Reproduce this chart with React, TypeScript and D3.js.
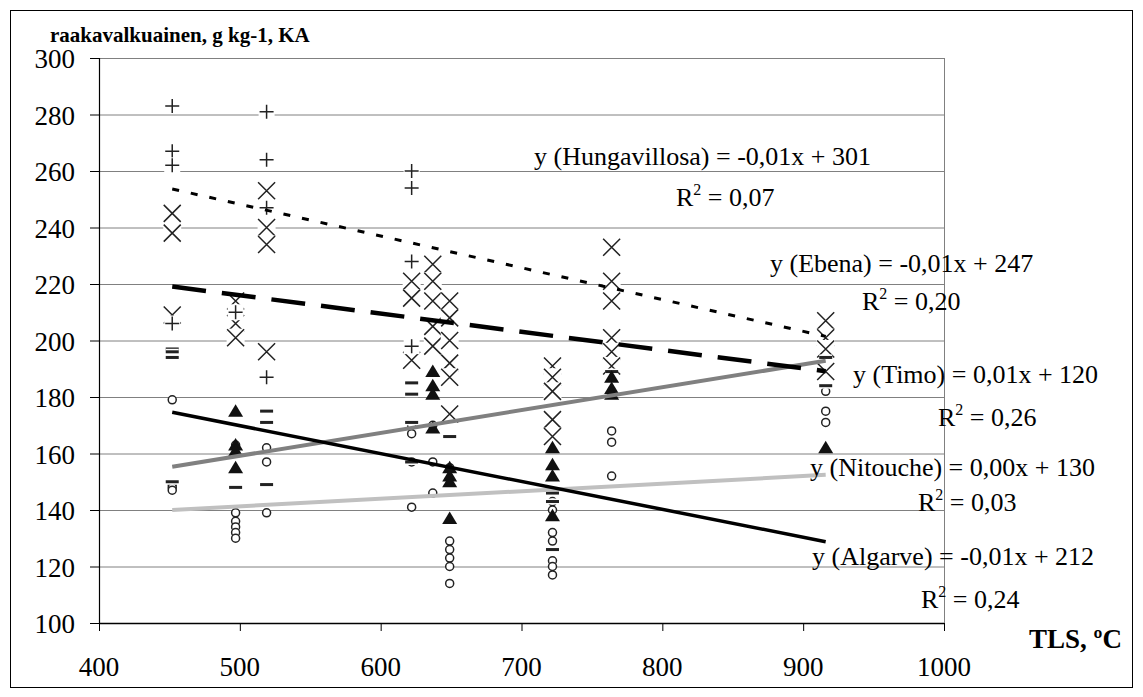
import React from "react";
import * as d3 from "d3";

type Pt = [number, number];

// axis ticks
const xTicks = [400, 500, 600, 700, 800, 900, 1000];
const yTicks = [100, 120, 140, 160, 180, 200, 220, 240, 260, 280, 300];

// [TLS, raakavalkuainen]
const hungavillosa: Pt[] = [
  [452, 283], [452, 267], [452, 262], [452, 206],
  [497, 210],
  [519, 281], [519, 264], [519, 247], [519, 187],
  [622, 260], [622, 254], [622, 228], [622, 198],
];

const ebena: Pt[] = [
  [452, 245], [452, 238], [452, 209],
  [497, 214], [497, 206], [497, 201],
  [519, 253], [519, 240], [519, 234], [519, 196],
  [622, 221], [622, 215], [622, 193],
  [637, 227], [637, 221], [637, 214], [637, 205], [637, 198],
  [649, 214], [649, 208], [649, 200], [649, 192], [649, 187], [649, 174],
  [722, 191], [722, 187], [722, 182], [722, 172], [722, 166],
  [764, 233], [764, 221], [764, 214], [764, 201], [764, 196], [764, 191],
  [916, 207], [916, 201], [916, 197], [916, 189],
];

const timo: Pt[] = [
  [452, 197], [452, 196], [452, 194], [452, 150],
  [497, 148],
  [519, 175], [519, 171], [519, 149],
  [622, 185], [622, 181], [622, 171], [622, 157],
  [649, 166],
  [722, 146], [722, 143], [722, 126],
  [764, 189],
  [916, 194], [916, 184],
];

const nitouche: Pt[] = [
  [452, 179], [452, 149], [452, 148], [452, 147],
  [497, 163], [497, 139], [497, 136], [497, 134], [497, 132], [497, 130],
  [519, 162], [519, 157], [519, 139],
  [622, 170], [622, 167], [622, 157], [622, 141],
  [637, 170], [637, 157], [637, 146],
  [649, 155], [649, 129], [649, 126], [649, 123], [649, 120], [649, 114],
  [722, 143], [722, 140], [722, 132], [722, 129], [722, 122], [722, 120], [722, 117],
  [764, 168], [764, 164], [764, 152],
  [916, 182], [916, 175], [916, 171],
];

const algarve: Pt[] = [
  [497, 175], [497, 163], [497, 161], [497, 155],
  [637, 189], [637, 184], [637, 181], [637, 169],
  [649, 155], [649, 152], [649, 150], [649, 137],
  [722, 162], [722, 156], [722, 152], [722, 138],
  [764, 187], [764, 183], [764, 181],
  [916, 162],
];

// linear trends as drawn: [slope, intercept]
const trendRange = [452, 916];
const hungTrend = [-0.1125, 304.5];
const ebenaTrend = [-0.0646, 248.3];
const timoTrend = [0.0808, 118.8];
const nitoucheTrend = [0.0268, 127.9];
const algarveTrend = [-0.0987, 219.2];

const equations = [
  "y (Hungavillosa) = -0,01x + 301",
  "y (Ebena) = -0,01x + 247",
  "y (Timo) = 0,01x + 120",
  "y (Nitouche) = 0,00x + 130",
  "y (Algarve) = -0,01x + 212",
];
const rSquared = ["0,07", "0,20", "0,26", "0,03", "0,24"];

const FONT = "Liberation Serif, Times New Roman, serif";
const INK = "#222";

// label placements (x, baseline)
const eqPos: Pt[] = [[534, 165], [770, 272], [853, 383], [810, 476], [812, 565]];
const r2Pos: Pt[] = [[676, 206], [862, 310], [938, 426], [918, 511], [921, 608]];

function Cross({ cx, cy }: { cx: number; cy: number }) {
  const s = 8.5;
  return (
    <g>
      <rect x={cx - 9} y={cy - 9} width={18} height={18} fill="#fff" />
      <path d={`M${cx - s},${cy - s}L${cx + s},${cy + s}M${cx - s},${cy + s}L${cx + s},${cy - s}`}
        stroke={INK} strokeWidth={1.5} />
    </g>
  );
}

function Plus({ cx, cy }: { cx: number; cy: number }) {
  const s = 7;
  return (
    <g>
      <rect x={cx - 8} y={cy - 8} width={16} height={16} fill="#fff" />
      <path d={`M${cx - s},${cy}L${cx + s},${cy}M${cx},${cy - s}L${cx},${cy + s}`}
        stroke={INK} strokeWidth={1.5} />
    </g>
  );
}

function Dash({ cx, cy }: { cx: number; cy: number }) {
  return (
    <g>
      <rect x={cx - 6.5} y={cy - 3} width={13} height={6} fill="#fff" />
      <rect x={cx - 6.5} y={cy - 1.5} width={13} height={3} fill={INK} />
    </g>
  );
}

function Circle({ cx, cy }: { cx: number; cy: number }) {
  return <circle cx={cx} cy={cy} r={4} fill="#fff" stroke={INK} strokeWidth={1.5} />;
}

function Tri({ cx, cy }: { cx: number; cy: number }) {
  return (
    <path d={`M${cx},${cy - 7}L${cx + 7.5},${cy + 5.5}L${cx - 7.5},${cy + 5.5}Z`} fill="#111" />
  );
}

export default function App() {
  const x = d3.scaleLinear().domain([400, 1000]).range([99, 944]);
  const y = d3.scaleLinear().domain([100, 300]).range([623, 58]);
  const [x0, x1] = x.range();
  const [y0, y1] = y.range();

  const trendPath = (t: number[]) =>
    d3.line<number>().x(v => x(v)).y(v => y(t[0] * v + t[1]))(trendRange);

  return (
    <div style={{ position: "absolute", left: 0, top: 0 }}>
      <svg width={1143} height={697} style={{ display: "block", fontFamily: FONT }}>
        <rect x={0} y={0} width={1143} height={697} fill="#fff" />
        <rect x={10.5} y={10.5} width={1122} height={677} fill="none" stroke="#000" strokeWidth={1} />

        {/* grid */}
        {yTicks.map(t => (
          <line key={t} x1={x0} x2={x1} y1={y(t) + 0.5} y2={y(t) + 0.5} stroke="#808080" strokeWidth={1} />
        ))}
        <line x1={x1 + 0.5} x2={x1 + 0.5} y1={y1} y2={y0} stroke="#808080" strokeWidth={1} />

        {/* markers */}
        {ebena.map((d, i) => <Cross key={"e" + i} cx={x(d[0])} cy={y(d[1])} />)}
        {hungavillosa.map((d, i) => <Plus key={"h" + i} cx={x(d[0])} cy={y(d[1])} />)}
        {nitouche.map((d, i) => <Circle key={"n" + i} cx={x(d[0])} cy={y(d[1])} />)}
        {timo.map((d, i) => <Dash key={"t" + i} cx={x(d[0])} cy={y(d[1])} />)}
        {algarve.map((d, i) => <Tri key={"a" + i} cx={x(d[0])} cy={y(d[1])} />)}

        {/* trend lines */}
        <path d={trendPath(nitoucheTrend)!} stroke="#c0c0c0" strokeWidth={4} fill="none" />
        <path d={trendPath(timoTrend)!} stroke="#808080" strokeWidth={4} fill="none" />
        <path d={trendPath(algarveTrend)!} stroke="#000" strokeWidth={3.5} fill="none" />
        <path d={trendPath(ebenaTrend)!} stroke="#000" strokeWidth={4.5} fill="none" strokeDasharray="34,16" />
        <path d={trendPath(hungTrend)!} stroke="#000" strokeWidth={3} fill="none" strokeDasharray="7,12" />

        {/* axes */}
        <line x1={x0 + 0.5} x2={x0 + 0.5} y1={y1} y2={y0} stroke="#000" strokeWidth={1.2} />
        <line x1={x0} x2={x1} y1={y0 + 0.5} y2={y0 + 0.5} stroke="#000" strokeWidth={1.5} />
        {yTicks.map(t => (
          <g key={"yt" + t}>
            <line x1={x0 - 9} x2={x0} y1={y(t) + 0.5} y2={y(t) + 0.5} stroke="#000" />
            <text x={75} y={y(t) + 10} textAnchor="end" fontSize={27}>{t}</text>
          </g>
        ))}
        {xTicks.map(t => (
          <g key={"xt" + t}>
            <line x1={x(t) + 0.5} x2={x(t) + 0.5} y1={y0} y2={y0 + 8} stroke="#000" />
            <text x={x(t)} y={676} textAnchor="middle" fontSize={27}>{t}</text>
          </g>
        ))}

        <text x={50} y={42} fontSize={21} fontWeight="bold">raakavalkuainen, g kg-1, KA</text>
        <text x={1122} y={648} fontSize={27} fontWeight="bold" textAnchor="end">TLS, ºC</text>

        {/* equations */}
        {equations.map((e, i) => (
          <text key={"eq" + i} x={eqPos[i][0]} y={eqPos[i][1]} fontSize={26}>{e}</text>
        ))}
        {rSquared.map((r, i) => (
          <text key={"r2" + i} x={r2Pos[i][0]} y={r2Pos[i][1]} fontSize={26}>
            R<tspan dy={-11} fontSize={16}>2</tspan><tspan dy={11}> = {r}</tspan>
          </text>
        ))}
      </svg>
    </div>
  );
}
